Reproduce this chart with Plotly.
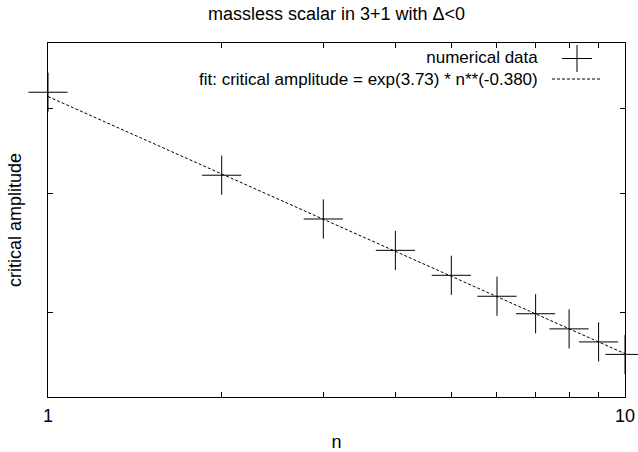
import plotly.graph_objects as go

# data
n_vals = [1, 2, 3, 4, 5, 6, 7, 8, 9, 10]
amp_vals = [42.29, 31.89, 27.48, 24.70, 22.69, 21.13, 19.91, 18.91, 18.09, 17.34]
fit_n = [1, 10]
fit_amp = [41.68, 17.38]
x_tickvals = [1, 2, 3, 4, 5, 6, 7, 8, 9, 10]
x_ticktext = ["1", "", "", "", "", "", "", "", "", "10"]
y_tickvals = [20, 30, 40]
key_labels = ["numerical data", "fit: critical amplitude = exp(3.73) * n**(-0.380)"]

FONT = "Liberation Sans, Arial, Helvetica, sans-serif"
FS = 18
KEY_FS = 17

fig = go.Figure()
fig.add_trace(go.Scatter(
    x=fit_n, y=fit_amp, mode="lines",
    line=dict(color="black", width=1, dash="3px,2px"),
    name=key_labels[1], showlegend=False,
))
fig.add_trace(go.Scatter(
    x=n_vals, y=amp_vals, mode="markers",
    marker=dict(symbol="cross-thin", size=28, color="black",
                line=dict(width=1, color="black")),
    cliponaxis=False, name=key_labels[0], showlegend=False,
))

axis_common = dict(
    showline=True, linecolor="black", linewidth=1, mirror="ticks",
    ticks="inside", ticklen=5, tickcolor="black", tickwidth=1,
    showgrid=False, zeroline=False, automargin=False,
)
fig.update_xaxes(type="log", range=[0, 1], tickvals=x_tickvals, ticktext=x_ticktext,
                 ticklabelstandoff=2,
                 title=dict(text="n", font=dict(size=FS, family=FONT, color="black"), standoff=11),
                 tickfont=dict(size=FS, family=FONT, color="black"), **axis_common)
fig.update_yaxes(type="log", range=[1.17609, 1.69897], tickvals=y_tickvals,
                 ticktext=["", "", ""],
                 title=dict(text="critical amplitude", font=dict(size=FS, family=FONT, color="black"), standoff=17),
                 **axis_common)

# gnuplot-style key (text left of sample), one right-aligned text block
def py(px):
    return (397 - px) / 354

fig.add_annotation(xref="paper", yref="paper", x=0.8527, y=py(68.5),
                   text="<br>".join(key_labels), align="right",
                   showarrow=False, xanchor="right", yanchor="middle",
                   font=dict(size=KEY_FS, family=FONT, color="black"))
fig.add_shape(type="line", xref="paper", yref="paper", x0=0.8908, x1=0.9428, y0=py(58.5), y1=py(58.5),
              line=dict(color="black", width=1))
fig.add_shape(type="line", xref="paper", yref="paper", x0=0.9168, x1=0.9168, y0=py(72), y1=py(45),
              line=dict(color="black", width=1))
fig.add_shape(type="line", xref="paper", yref="paper", x0=0.8735, x1=0.9601, y0=py(79), y1=py(79),
              line=dict(color="black", width=1, dash="3px,2px"))

fig.update_layout(
    width=638, height=452,
    margin=dict(l=48, r=13, t=43, b=55),
    paper_bgcolor="white", plot_bgcolor="white",
    font=dict(family=FONT, size=FS, color="black"),
    title=dict(text="massless scalar in 3+1 with Δ<0", x=(48 + 625) / 2 / 638, xanchor="center",
               y=1 - 14 / 452, yanchor="middle",
               font=dict(size=FS, family=FONT, color="black")),
    showlegend=False,
)

fig.write_html("out.html")
